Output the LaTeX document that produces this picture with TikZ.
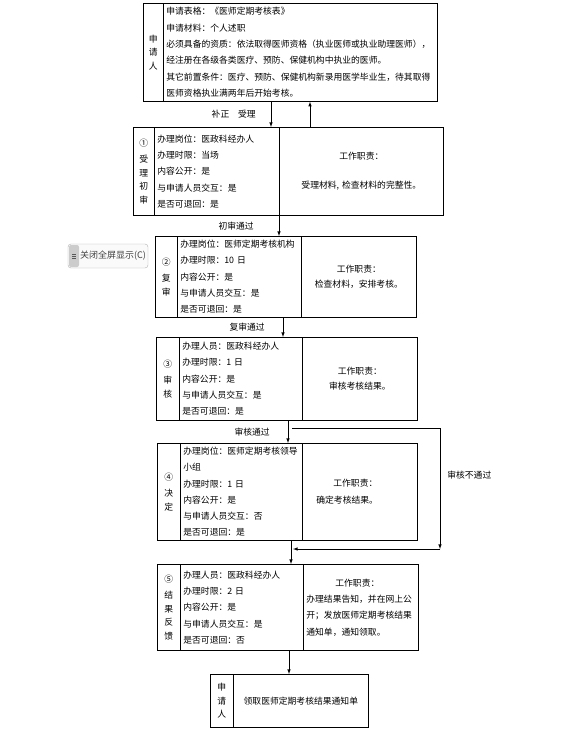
\documentclass[tikz,border=0pt]{standalone}
\usepackage{xcolor}
\usepackage{fontspec}
\newfontfamily\cjk{Noto Sans CJK SC}
\usepackage{tikz}
\usetikzlibrary{calc}
\usetikzlibrary{arrows}
\usetikzlibrary{positioning}
\tikzset{>=latex}
\tikzset{cell/.style={rectangle, draw=black, line width=0.7pt, anchor=north west, inner xsep=3pt, inner ysep=0pt, font=\cjk\fontsize{8.8}{16.3}\selectfont}}
\tikzset{vcell/.style={cell, align=center, font=\cjk\fontsize{8.8}{13.5}\selectfont}}
\tikzset{duty/.style={cell, align=center, font=\cjk\fontsize{8.8}{15}\selectfont}}
\tikzset{lbl/.style={inner sep=1pt, font=\cjk\fontsize{8.8}{10}\selectfont}}
\tikzset{arr/.style={->, line width=0.6pt}}

\begin{document}
\begin{tikzpicture}[x=1pt, y=-1pt]
\path[use as bounding box, fill=white] (0,0) rectangle (580,731);
\node [vcell, minimum width=20pt, minimum height=98pt, text width=14pt] (appL) at (143,3) {申\\请\\人};
\node [cell, minimum width=274pt, minimum height=98pt, text width=268pt, align=left] (appR) at (163,3) {申请表格：《医师定期考核表》\\申请材料：个人述职\\必须具备的资质：依法取得医师资格（执业医师或执业助理医师），\\经注册在各级各类医疗、预防、保健机构中执业的医师。\\其它前置条件：医疗、预防、保健机构新录用医学毕业生，待其取得\\医师资格执业满两年后开始考核。};

\node [vcell, minimum width=21pt, minimum height=88pt, text width=15pt] (s1a) at (133,127) {①\\[3pt]受\\理\\初\\审};
\node [cell, minimum width=125pt, minimum height=88pt, text width=119pt, align=left] (s1b) at (154,127) {办理岗位：医政科经办人\\办理时限：当场\\内容公开：是\\与申请人员交互：是\\是否可退回：是};
\node [cell, minimum width=164pt, minimum height=88pt, text width=158pt, align=center] (s1c) at (279,127) {工作职责：\\[13pt]受理材料, 检查材料的完整性。};

\node [vcell, minimum width=22pt, minimum height=81pt, text width=16pt] (s2a) at (155,236) {②\\[3pt]复\\审};
\node [cell, minimum width=124pt, minimum height=81pt, text width=118pt, align=left] (s2b) at (177,236) {办理岗位：医师定期考核机构\\办理时限：10 日\\内容公开：是\\与申请人员交互：是\\是否可退回：是};
\node [duty, minimum width=115pt, minimum height=81pt, text width=109pt] (s2c) at (301,236) {工作职责：\\检查材料，安排考核。};

\node [vcell, minimum width=23pt, minimum height=83pt, text width=17pt] (s3a) at (156,337) {③\\[3pt]审\\核};
\node [cell, minimum width=123pt, minimum height=83pt, text width=117pt, align=left] (s3b) at (179,337) {办理人员：医政科经办人\\办理时限：1 日\\内容公开：是\\与申请人员交互：是\\是否可退回：是};
\node [duty, minimum width=115pt, minimum height=83pt, text width=109pt] (s3c) at (302,337) {工作职责：\\审核考核结果。};

\node [vcell, minimum width=23pt, minimum height=97pt, text width=17pt] (s4a) at (157,443) {④\\[3pt]决\\定};
\node [cell, minimum width=122pt, minimum height=97pt, text width=116pt, align=left] (s4b) at (180,443) {办理岗位：医师定期考核领导\\小组\\办理时限：1 日\\内容公开：是\\与申请人员交互：否\\是否可退回：是};
\node [cell, minimum width=115pt, minimum height=97pt, text width=109pt, align=left, font=\cjk\fontsize{8.8}{17}\selectfont] (s4c) at (302,443) {\hspace*{28pt}工作职责：\\\hspace*{11pt}确定考核结果。};

\node [vcell, minimum width=23pt, minimum height=86pt, text width=17pt] (s5a) at (157,564) {⑤\\[3pt]结\\果\\反\\馈};
\node [cell, minimum width=123pt, minimum height=86pt, text width=117pt, align=left] (s5b) at (180,564) {办理人员：医政科经办人\\办理时限：2 日\\内容公开：是\\与申请人员交互：是\\是否可退回：否};
\node [cell, minimum width=115pt, minimum height=86pt, text width=109pt, align=left] (s5c) at (303,564) {\hspace*{29pt}工作职责：\\办理结果告知，并在网上公\\开；发放医师定期考核结果\\通知单，通知领取。};

\node [vcell, minimum width=23pt, minimum height=53pt, text width=17pt] (endL) at (210,674) {申\\请\\人};
\node [cell, minimum width=135pt, minimum height=53pt, text width=129pt, align=center] (endR) at (233,674) {领取医师定期考核结果通知单};

\node [rectangle, rounded corners=3pt, draw=gray!60, fill=gray!4, minimum width=80pt, minimum height=24pt, inner sep=0pt, text=black!75, font=\cjk\fontsize{9}{10}\selectfont] (btn) at (108,256) {\hspace*{10pt}关闭全屏显示(C)};
\node [rectangle, rounded corners=2pt, fill=gray!40, minimum width=10pt, minimum height=22pt, inner sep=0pt, anchor=west] (btntab) at ([xshift=1pt]btn.west) {};
\foreach \dy in {-2,0,2}
  \draw [gray!70!black, line width=0.4pt] ([xshift=-2pt, yshift=\dy pt]btntab.center) -- ++(4pt,0pt);

\coordinate (b1) at (292,428);
\coordinate (b2) at (440,428);
\coordinate (b3) at (440,549);
\coordinate (b4) at (293,549);

\draw [arr] (271,0 |- appR.south) to node[lbl, left=14pt] {补正　受理} (271,0 |- s1b.north);
\draw [arr] (310,0 |- s1c.north) to (310,0 |- appR.south);
\draw [arr] (279,0 |- s1b.south) to node[lbl, left=24pt] {初审通过} (279,0 |- s2b.north);
\draw [arr] (283,0 |- s2b.south) to node[lbl, left=17pt] {复审通过} (283,0 |- s3b.north);
\draw [arr] (288,0 |- s3b.south) to node[lbl, left=17pt] {审核通过} (288,0 |- s4b.north);
\draw [line width=0.6pt] (b1) -- (b2);
\draw [arr] (b2) to node[lbl, pos=0.39, right=6pt] {审核不通过} (b3);
\draw [arr] (b3) to (b4);
\draw [arr] (291,0 |- s4b.south) to (291,0 |- s5b.north);
\draw [arr] (289,0 |- s5b.south) to (289,0 |- endR.north);
\end{tikzpicture}
\end{document}
